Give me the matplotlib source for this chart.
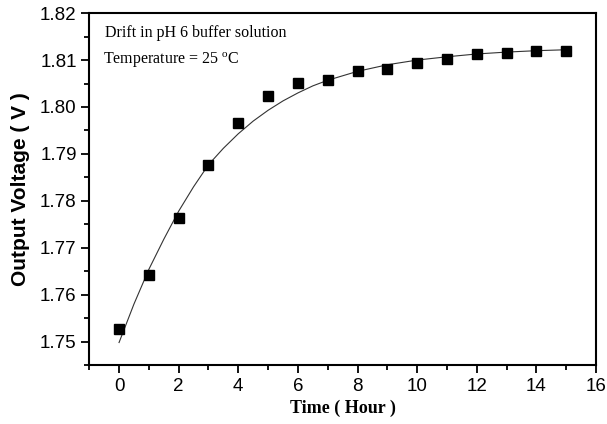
import matplotlib
matplotlib.use("Agg")
import matplotlib.pyplot as plt
from matplotlib.ticker import MultipleLocator

# Measured data (hours, volts)
time_h = [0, 1, 2, 3, 4, 5, 6, 7, 8, 9, 10, 11, 12, 13, 14, 15]
voltage = [1.7526, 1.7643, 1.7764, 1.7876, 1.7966, 1.8023, 1.8051, 1.8058,
           1.8076, 1.8081, 1.8094, 1.8102, 1.8113, 1.8116, 1.8120, 1.8120]

# Fitted curve
fit_t = [0, 0.5, 1, 1.5, 2, 2.5, 3, 3.5, 4, 4.5, 5, 5.5, 6, 6.5, 7, 8, 9, 10,
         11, 12, 13, 14, 15]
fit_v = [1.7498, 1.7580, 1.7654, 1.7718, 1.7778, 1.7830, 1.7877, 1.7912,
         1.7943, 1.7970, 1.7993, 1.8013, 1.8030, 1.8045, 1.8057, 1.8076,
         1.8090, 1.8100, 1.8107, 1.8113, 1.8117, 1.8120, 1.8122]

fig = plt.figure(figsize=(6.07, 4.24), dpi=100)
ax = fig.add_axes([0.147, 0.139, 0.835, 0.830])

ax.plot(fit_t, fit_v, color="#333333", lw=0.8, zorder=2)
ax.plot(time_h, voltage, linestyle="none", marker="s", markersize=7,
        color="black", zorder=3)

ax.set_xlim(-1, 16)
ax.set_ylim(1.745, 1.82)
ax.xaxis.set_major_locator(MultipleLocator(2))
ax.xaxis.set_minor_locator(MultipleLocator(1))
ax.yaxis.set_major_locator(MultipleLocator(0.01))
ax.yaxis.set_minor_locator(MultipleLocator(0.005))
ax.yaxis.set_major_formatter(matplotlib.ticker.FormatStrFormatter("%.2f"))

for s in ax.spines.values():
    s.set_linewidth(1.5)
ax.tick_params(which="both", direction="out", top=False, right=False,
               width=1.3)
ax.tick_params(which="major", length=6, labelsize=13.5, pad=3)
ax.tick_params(which="minor", length=3.5)
for lab in ax.get_xticklabels() + ax.get_yticklabels():
    lab.set_family("Liberation Sans")

ax.set_xlabel("Time ( Hour )", family="Liberation Serif", fontweight="bold",
              fontsize=13, labelpad=4)
ax.set_ylabel("Output Voltage ( V )", family="Liberation Sans",
              fontweight="bold", fontsize=15, labelpad=7)

ax.text(0.031, 0.944, "Drift in pH 6 buffer solution", transform=ax.transAxes,
        family="Liberation Serif", fontsize=11.5, va="center", ha="left")
ax.text(0.027, 0.867, r"Temperature = 25 $^\mathregular{o}$C",
        transform=ax.transAxes, family="Liberation Serif", fontsize=11.5,
        va="center", ha="left")

fig.savefig("out.png", dpi=100)
